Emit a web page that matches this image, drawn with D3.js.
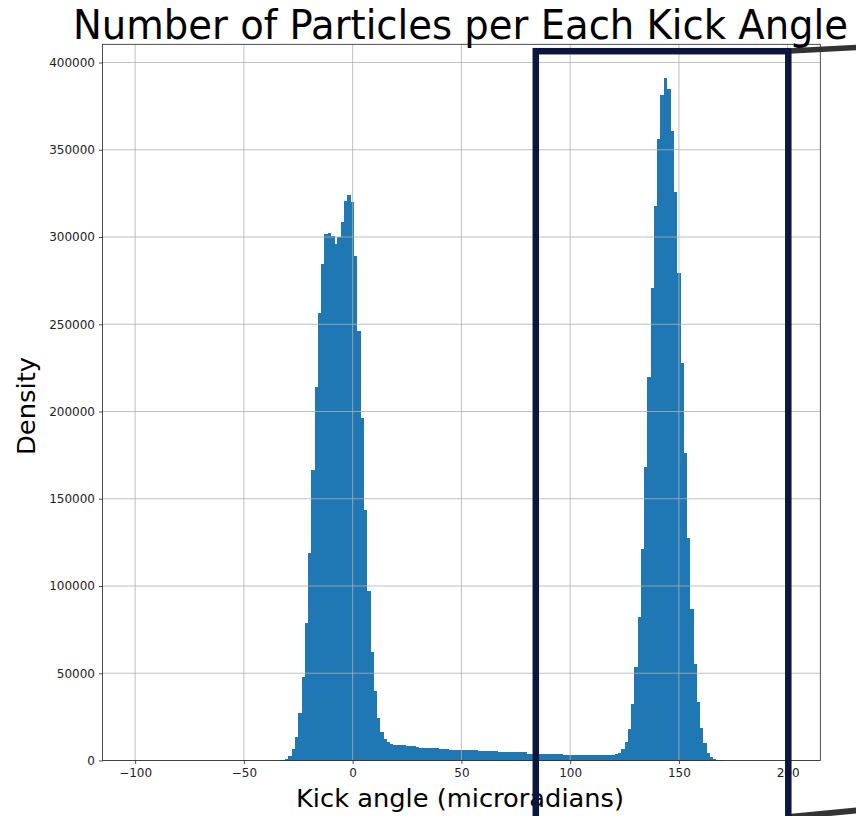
<!DOCTYPE html>
<html>
<head>
<meta charset="utf-8">
<script src="https://d3js.org/d3.v7.min.js" charset="utf-8"></script>
<style>
  body { margin: 0; background: #fff; }
  text { font-family: "DejaVu Sans", sans-serif; }
</style>
</head>
<body>
<script>
// histogram bins: 200 bins of 1.5 microradians starting at -100
var binStart = -100;
var binWidth = 1.5;

// counts per bin (10 per row)
var counts = [
  0, 0, 0, 0, 0, 0, 0, 0, 0, 0,
  0, 0, 0, 0, 0, 0, 0, 0, 0, 0,
  0, 0, 0, 0, 0, 0, 0, 0, 0, 0,
  0, 0, 0, 0, 0, 0, 0, 0, 0, 0,
  0, 0, 0, 0, 100, 300, 860, 2600, 6400, 13700,
  27000, 47700, 79000, 119100, 166400, 214300, 256700, 284600, 301700, 302500,
  300600, 296100, 299800, 308400, 320800, 324300, 320200, 288900, 246200, 196200,
  143300, 97200, 62400, 39700, 24300, 16500, 12200, 10500, 9300, 9100,
  9000, 8900, 8600, 8500, 8500, 8400, 7500, 7400, 7400, 7300,
  7300, 7200, 7100, 6500, 6400, 6400, 6300, 6100, 6000, 6000,
  6000, 5900, 5900, 5900, 5800, 5500, 5400, 5400, 5400, 5300,
  5300, 4900, 4900, 4900, 4800, 4800, 4800, 4700, 4700, 4600,
  3900, 3900, 3800, 3700, 3700, 3700, 3600, 3600, 3600, 3500,
  3500, 3200, 3200, 3000, 3000, 3000, 2900, 2900, 2900, 2900,
  2900, 2900, 2900, 2900, 2900, 3000, 3100, 3500, 4300, 6500,
  10800, 18300, 32200, 53400, 82400, 121400, 168400, 219600, 270600, 317900,
  356200, 381300, 390900, 384800, 360700, 325900, 279500, 227600, 176000, 127300,
  86800, 55300, 33700, 18400, 9800, 4500, 2200, 860, 300, 80,
  0, 0, 0, 0, 0, 0, 0, 0, 0, 0,
  0, 0, 0, 0, 0, 0, 0, 0, 0, 0
];

var xTicks = [-100, -50, 0, 50, 100, 150, 200];
var yTicks = [0, 50000, 100000, 150000, 200000, 250000, 300000, 350000, 400000];

var title = "Number of Particles per Each Kick Angle";
var xLabel = "Kick angle (microradians)";
var yLabel = "Density";

//medidas
var w = 856;
var h = 816;
var plotLeft = 102.5, plotRight = 820.3, plotTop = 44.3, plotBottom = 760.5;

var bins = counts.map(function (c, i) {
  return { x0: binStart + i * binWidth, x1: binStart + (i + 1) * binWidth, count: c };
});

var dataMin = binStart;
var dataMax = binStart + counts.length * binWidth;
var pad = (dataMax - dataMin) * 0.05;

var xScale = d3.scaleLinear()
  .domain([dataMin - pad, dataMax + pad])
  .range([plotLeft, plotRight]);

var yScale = d3.scaleLinear()
  .domain([0, d3.max(counts) * 1.05])
  .range([plotBottom, plotTop]);

var svg = d3.select("body")
  .append("svg")
  .attr("width", w)
  .attr("height", h);

svg.append("rect").attr("width", w).attr("height", h).attr("fill", "#fff");

// bars (snapped like matplotlib, so no seams between them)
svg.append("g")
  .attr("shape-rendering", "crispEdges")
  .selectAll("rect")
  .data(bins.filter(function (d) { return d.count > 0; }))
  .enter()
  .append("rect")
  .attr("x", function (d) { return xScale(d.x0); })
  .attr("y", function (d) { return yScale(d.count); })
  .attr("width", function (d) { return xScale(d.x1) - xScale(d.x0) + 0.5; })
  .attr("height", function (d) { return plotBottom - yScale(d.count); })
  .attr("fill", "#1f77b4");

// grid on top of bars like matplotlib
var grid = svg.append("g").attr("stroke", "#b0b0b0").attr("stroke-width", 0.8);
grid.selectAll(".vg").data(xTicks).enter().append("line")
  .attr("x1", function (d) { return xScale(d); })
  .attr("x2", function (d) { return xScale(d); })
  .attr("y1", plotTop).attr("y2", plotBottom);
grid.selectAll(".hg").data(yTicks).enter().append("line")
  .attr("y1", function (d) { return yScale(d); })
  .attr("y2", function (d) { return yScale(d); })
  .attr("x1", plotLeft).attr("x2", plotRight);

// axes
var xAxis = d3.axisBottom(xScale).tickValues(xTicks).tickSize(3.5).tickPadding(4.5);
var yAxis = d3.axisLeft(yScale).tickValues(yTicks).tickSize(3.5).tickPadding(4).tickFormat(d3.format("d"));

var gx = svg.append("g")
  .attr("transform", "translate(0," + plotBottom + ")")
  .call(xAxis);
var gy = svg.append("g")
  .attr("transform", "translate(" + plotLeft + ",0)")
  .call(yAxis);

[gx, gy].forEach(function (g) {
  g.select(".domain").remove();
  g.selectAll(".tick line").attr("stroke", "#222").attr("stroke-width", 0.8);
  g.selectAll(".tick text")
    .attr("fill", "#222")
    .style("font-family", "DejaVu Sans")
    .style("font-size", "12px");
});

// frame
svg.append("rect")
  .attr("x", plotLeft).attr("y", plotTop)
  .attr("width", plotRight - plotLeft).attr("height", plotBottom - plotTop)
  .attr("fill", "none").attr("stroke", "#222").attr("stroke-width", 0.8);

// texts
svg.append("text")
  .attr("x", 460.5).attr("y", 38.5)
  .attr("text-anchor", "middle")
  .attr("font-size", 40)
  .attr("textLength", 775).attr("lengthAdjust", "spacingAndGlyphs")
  .attr("fill", "#000")
  .text(title);

svg.append("text")
  .attr("x", 460).attr("y", 807)
  .attr("text-anchor", "middle")
  .attr("font-size", 25)
  .attr("textLength", 328).attr("lengthAdjust", "spacingAndGlyphs")
  .attr("fill", "#000")
  .text(xLabel);

svg.append("text")
  .attr("transform", "translate(35,406) rotate(-90)")
  .attr("text-anchor", "middle")
  .attr("font-size", 25)
  .attr("textLength", 98).attr("lengthAdjust", "spacingAndGlyphs")
  .attr("fill", "#000")
  .text(yLabel);

// highlight box around the right peak and the zoom connector lines
svg.append("line")
  .attr("x1", 789).attr("y1", 51).attr("x2", 860).attr("y2", 47.3)
  .attr("stroke", "#333").attr("stroke-width", 5.5);
svg.append("line")
  .attr("x1", 789).attr("y1", 817).attr("x2", 860).attr("y2", 810)
  .attr("stroke", "#333").attr("stroke-width", 6);

svg.append("rect")
  .attr("x", 535.8).attr("y", 51.2)
  .attr("width", 252.5).attr("height", 800)
  .attr("fill", "none")
  .attr("stroke", "#0b1640")
  .attr("stroke-width", 6.5);
</script>
</body>
</html>
